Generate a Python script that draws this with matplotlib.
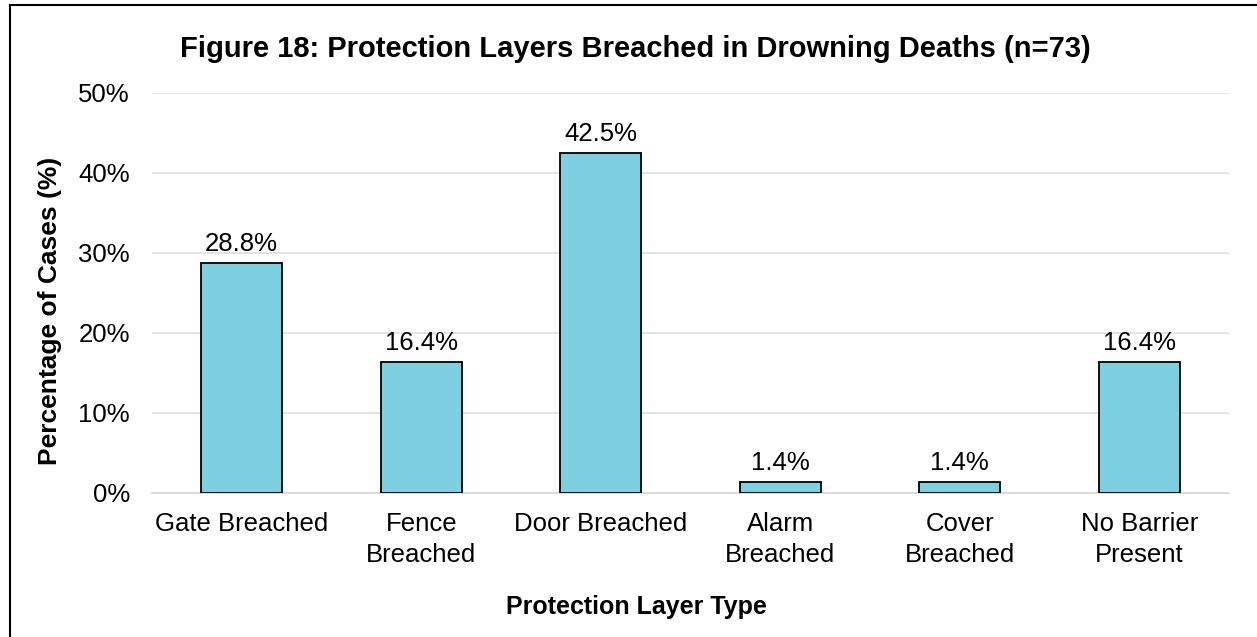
import matplotlib
matplotlib.use("Agg")
import matplotlib.pyplot as plt
from matplotlib.patches import Rectangle
from matplotlib.ticker import PercentFormatter

categories = ["Gate Breached", "Fence\nBreached", "Door Breached", "Alarm\nBreached", "Cover\nBreached", "No Barrier\nPresent"]
values = [28.8, 16.4, 42.5, 1.4, 1.4, 16.4]
yticks = [0, 10, 20, 30, 40, 50]

plt.rcParams['font.family'] = ['Liberation Sans', 'DejaVu Sans']

W, H = 1257, 637
fig = plt.figure(figsize=(W / 100, H / 100), dpi=100)
ax = fig.add_axes([152 / W, 1 - 493 / H, (1229 - 152) / W, (493 - 93) / H])

x = list(range(len(categories)))
ax.bar(x, values, width=0.45, color="#7ECFE0", edgecolor="black", linewidth=1.3, zorder=3)
ax.set_xlim(-0.5, len(categories) - 0.5)
ax.set_ylim(0, 50)
ax.set_yticks(yticks)
ax.yaxis.set_major_formatter(PercentFormatter(decimals=0))
ax.grid(axis="y", color="#E0E0E0", linewidth=1.3, zorder=0)
for s in ["top", "right", "left"]:
    ax.spines[s].set_visible(False)
ax.spines["bottom"].set_color("#D9D9D9")
ax.spines["bottom"].set_linewidth(1.3)
ax.tick_params(axis="both", length=0, labelsize=18.5, colors="black")
ax.tick_params(axis="x", pad=14)
ax.tick_params(axis="y", pad=16)
ax.set_xticks(x)
ax.set_xticklabels(categories, linespacing=1.32)

for xi, v in zip(x, values):
    ax.annotate(f"{v:.1f}%", (xi, v), xytext=(0, 5), textcoords="offset points",
                ha="center", va="bottom", fontsize=18.5)

fig.text(635 / W, 1 - 49 / H, "Figure 18: Protection Layers Breached in Drowning Deaths (n=73)",
         ha="center", va="center", fontsize=21, fontweight="bold")
fig.text(636 / W, 1 - 607 / H, "Protection Layer Type", ha="center", va="center",
         fontsize=18, fontweight="bold")
fig.text(50 / W, 1 - 311 / H, "Percentage of Cases (%)", ha="center", va="center",
         rotation=90, fontsize=19, fontweight="bold")

# outer frame
fig.add_artist(Rectangle((10 / W, -0.05), 1.2, 1 - 5 / H + 0.05, transform=fig.transFigure,
                         fill=False, edgecolor="black", linewidth=1.5))

fig.savefig("out.png", dpi=100)
